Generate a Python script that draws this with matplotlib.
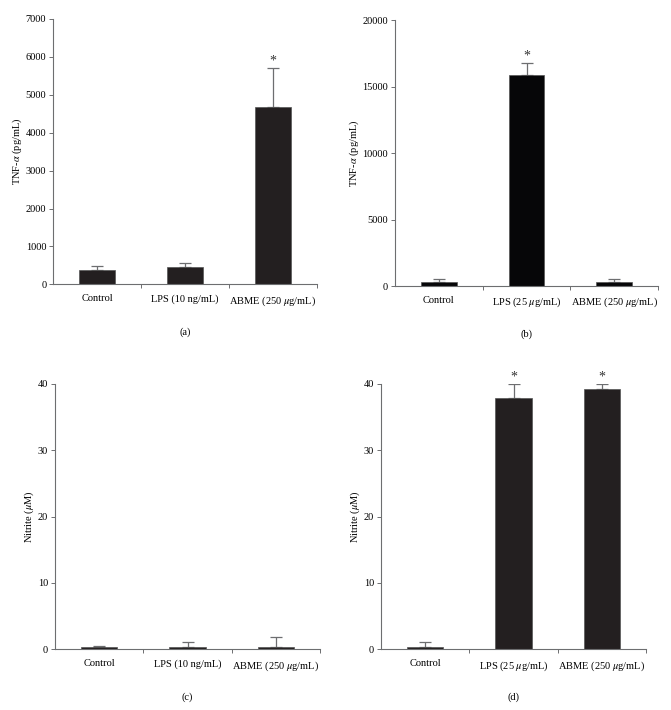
import numpy as np
import matplotlib.pyplot as plt

plt.rcParams['font.family'] = ['Liberation Serif', 'DejaVu Serif']
plt.rcParams['mathtext.fontset'] = 'stix'

# panel data
labels_a = ['Control', 'LPS (10 ng/mL)', 'ABME (250 $\\mu$g/mL)']
labels_b = ['Control', 'LPS (25 $\\mu$g/mL)', 'ABME (250 $\\mu$g/mL)']
tnf_a = [375, 445, 4665]
tnf_a_err = [115, 125, 1030]
tnf_b = [330, 15860, 280]
tnf_b_err = [170, 930, 220]
nit_c = [0.35, 0.3, 0.4]
nit_c_err = [0.1, 0.75, 1.45]
nit_d = [0.35, 37.8, 39.2]
nit_d_err = [0.7, 2.1, 0.7]
star_a = [False, False, True]
star_b = [False, True, False]
star_c = [False, False, False]
star_d = [False, True, True]

W, H = 671, 710
fig = plt.figure(figsize=(W / 100, H / 100), dpi=100)

def rect(x0, y0, x1, y1):
    return [x0 / W, 1 - y1 / H, (x1 - x0) / W, (y1 - y0) / H]

panels = [
    (rect(53.3, 19, 316.7, 284.3), labels_a, tnf_a, tnf_a_err, star_a, 7000, 1000,
     'TNF-$\\alpha$ (pg/mL)', '(a)', '#231f20'),
    (rect(395, 20.3, 658, 286), labels_b, tnf_b, tnf_b_err, star_b, 20000, 5000,
     'TNF-$\\alpha$ (pg/mL)', '(b)', '#060608'),
    (rect(55, 383.7, 320, 649.3), labels_a, nit_c, nit_c_err, star_c, 40, 10,
     'Nitrite ($\\mu$M)', '(c)', '#231f20'),
    (rect(381, 383.7, 646, 649.3), labels_b, nit_d, nit_d_err, star_d, 40, 10,
     'Nitrite ($\\mu$M)', '(d)', '#231f20'),
]

fs = 7.5
spine_col = '#6d6e70'
for pos, labels, vals, errs, stars, ymax, ystep, ylabel, tag, col in panels:
    ax = fig.add_axes(pos)
    x = np.arange(len(vals)) + 0.5
    ax.bar(x, vals, width=0.41, color=col, edgecolor='#555555', linewidth=0.5, zorder=2)
    ax.errorbar(x, vals, yerr=[np.zeros(len(errs)), errs], fmt='none',
                ecolor=spine_col, elinewidth=0.9, capsize=4.5, capthick=0.9, zorder=1)
    for xi, v, e, s in zip(x, vals, errs, stars):
        if s:
            ax.annotate('*', (xi, v + e), xytext=(0, 0.5), textcoords='offset points',
                        ha='center', va='bottom', fontsize=10, color='#333333')
    ax.set_xlim(0, 3)
    ax.set_ylim(0, ymax)
    ax.set_yticks(np.arange(0, ymax + 1, ystep))
    ax.set_xticks([1, 2, 3])
    ax.set_xticklabels([])
    ax.set_xticks(x, minor=True)
    ax.set_xticklabels(labels, minor=True, fontsize=fs)
    ax.tick_params(axis='x', which='minor', length=0, pad=7)
    ax.tick_params(axis='x', which='major', length=3, width=0.7, color=spine_col)
    ax.tick_params(axis='y', length=3, width=0.7, color=spine_col, labelsize=fs, pad=2)
    for sp in ['top', 'right']:
        ax.spines[sp].set_visible(False)
    for sp in ['left', 'bottom']:
        ax.spines[sp].set_color(spine_col)
        ax.spines[sp].set_linewidth(0.8)
    ax.set_ylabel(ylabel, fontsize=fs, labelpad=1)
    ax.text(0.5, -0.18, tag, transform=ax.transAxes, ha='center', va='center', fontsize=fs)

fig.savefig('out.png', dpi=100)
